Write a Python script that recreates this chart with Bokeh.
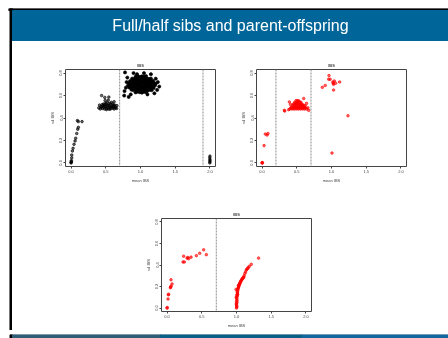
from bokeh.plotting import figure
from bokeh.layouts import column, row
from bokeh.models import Range1d, FixedTicker, Span, Spacer, Div
from bokeh.embed import file_html
from bokeh.resources import INLINE
from bokeh.core.properties import value

# ---------------- texts ----------------
slide_title = "Full/half sibs and parent-offspring"
footer_left = "Heather Cordell  (Newcastle)"
footer_mid = "GWAS (Part 1)"
footer_right = "36 / 47"

panel_title = "IBS"
x_label = "mean IBS"
y_label = "sd IBS"
x_ticks = [0.0, 0.5, 1.0, 1.5, 2.0]
x_tick_labels = ["0.0", "0.5", "1.0", "1.5", "2.0"]
y_ticks = [0.0, 0.2, 0.4, 0.6, 0.8]
y_tick_labels = ["0.0", "0.2", "0.4", "0.6", "0.8"]

# ---------------- panel 1 (black) ----------------
p1_po = [(0.0, 0.0), (0.002, 0.005), (0.004, 0.012), (0.005, 0.02), (0.01, 0.045), (0.01, 0.07),
         (0.019, 0.106), (0.029, 0.13), (0.043, 0.166), (0.058, 0.196), (0.067, 0.22),
         (0.082, 0.262), (0.096, 0.30), (0.105, 0.317), (0.091, 0.377), (0.105, 0.368), (0.158, 0.368)]
p1_hs = [(0.40, 0.49), (0.42, 0.48), (0.43, 0.50), (0.45, 0.485), (0.46, 0.51), (0.47, 0.495),
         (0.48, 0.48), (0.49, 0.52), (0.50, 0.50), (0.51, 0.485), (0.52, 0.515), (0.53, 0.495),
         (0.54, 0.48), (0.55, 0.51), (0.56, 0.495), (0.57, 0.525), (0.58, 0.485), (0.59, 0.505),
         (0.60, 0.49), (0.61, 0.515), (0.62, 0.48), (0.63, 0.50), (0.64, 0.49), (0.655, 0.485),
         (0.47, 0.525), (0.50, 0.53), (0.52, 0.54), (0.55, 0.53), (0.58, 0.54), (0.60, 0.525),
         (0.44, 0.50), (0.48, 0.505), (0.53, 0.51), (0.57, 0.50), (0.61, 0.50), (0.63, 0.515),
         (0.51, 0.475), (0.56, 0.478), (0.45, 0.52), (0.44, 0.60), (0.486, 0.583), (0.544, 0.586),
         (0.41, 0.515), (0.66, 0.51), (0.62, 0.545), (0.49, 0.555), (0.535, 0.56)]
p1_unrel = [(0.93, 0.628), (0.96, 0.634), (0.99, 0.630), (1.02, 0.626), (1.05, 0.633), (1.08, 0.631),
            (0.87, 0.652), (0.90, 0.647), (0.93, 0.655), (0.96, 0.649), (0.99, 0.652), (1.02, 0.646),
            (1.05, 0.654), (1.08, 0.650), (1.11, 0.645), (1.14, 0.653), (1.16, 0.648),
            (0.84, 0.671), (0.87, 0.667), (0.90, 0.674), (0.93, 0.669), (0.96, 0.672), (0.99, 0.666),
            (1.02, 0.673), (1.05, 0.668), (1.08, 0.671), (1.11, 0.675), (1.14, 0.668), (1.17, 0.672),
            (1.19, 0.667),
            (0.82, 0.689), (0.85, 0.693), (0.88, 0.687), (0.91, 0.691), (0.94, 0.694), (0.97, 0.688),
            (1.00, 0.692), (1.03, 0.686), (1.06, 0.690), (1.09, 0.694), (1.12, 0.688), (1.15, 0.692),
            (1.18, 0.689), (1.21, 0.691),
            (0.83, 0.711), (0.86, 0.707), (0.89, 0.713), (0.92, 0.709), (0.95, 0.706), (0.98, 0.712),
            (1.01, 0.708), (1.04, 0.714), (1.07, 0.710), (1.10, 0.706), (1.13, 0.712), (1.16, 0.709),
            (1.19, 0.713), (1.22, 0.707),
            (0.85, 0.729), (0.88, 0.733), (0.91, 0.727), (0.94, 0.731), (0.97, 0.735), (1.00, 0.728),
            (1.03, 0.732), (1.06, 0.726), (1.09, 0.730), (1.12, 0.734), (1.15, 0.729), (1.18, 0.731),
            (0.88, 0.751), (0.91, 0.747), (0.94, 0.753), (0.97, 0.749), (1.00, 0.752), (1.03, 0.746),
            (1.06, 0.750), (1.09, 0.754), (1.12, 0.748), (1.15, 0.751),
            (0.93, 0.768), (0.96, 0.772), (0.99, 0.766), (1.02, 0.771), (1.05, 0.769), (1.08, 0.773),
            (0.777, 0.806), (0.77, 0.64), (0.765, 0.60), (0.83, 0.588), (0.90, 0.80), (1.05, 0.80),
            (1.27, 0.68), (1.24, 0.65), (1.25, 0.72), (0.80, 0.72), (0.79, 0.67), (1.20, 0.62),
            (0.86, 0.61), (1.10, 0.61), (1.15, 0.79), (0.95, 0.79), (1.22, 0.75), (0.81, 0.76)]
p1_dup = [(1.998, 0.0), (2.0, 0.01), (2.0, 0.02), (2.0, 0.03), (1.998, 0.045), (2.0, 0.06)]
p1_cuts = [0.70, 1.90]

# ---------------- panel 2 (red) ----------------
p2_pts = [(0.0, 0.0), (0.003, 0.003), (0.006, 0.0), (0.029, 0.154), (0.047, 0.257), (0.072, 0.248),
          (0.086, 0.262), (0.321, 0.468), (0.326, 0.462),
          (0.40, 0.48), (0.43, 0.48), (0.46, 0.48), (0.49, 0.48), (0.52, 0.48), (0.55, 0.48),
          (0.58, 0.48), (0.61, 0.48), (0.64, 0.48),
          (0.415, 0.488), (0.445, 0.488), (0.475, 0.488), (0.505, 0.488), (0.535, 0.488),
          (0.565, 0.488), (0.595, 0.488), (0.625, 0.488),
          (0.42, 0.495), (0.45, 0.495), (0.48, 0.495), (0.51, 0.495), (0.54, 0.495), (0.57, 0.495),
          (0.60, 0.495), (0.62, 0.495),
          (0.455, 0.503), (0.485, 0.503), (0.515, 0.503), (0.545, 0.503), (0.575, 0.503),
          (0.605, 0.503),
          (0.44, 0.51), (0.47, 0.51), (0.50, 0.51), (0.53, 0.51), (0.56, 0.51), (0.59, 0.51),
          (0.465, 0.518), (0.495, 0.518), (0.525, 0.518), (0.555, 0.518), (0.585, 0.518),
          (0.45, 0.525), (0.48, 0.525), (0.51, 0.525), (0.54, 0.525), (0.57, 0.525),
          (0.485, 0.533), (0.515, 0.533), (0.545, 0.533),
          (0.47, 0.54), (0.50, 0.54), (0.53, 0.54), (0.56, 0.54), (0.505, 0.548), (0.535, 0.548),
          (0.49, 0.555), (0.52, 0.555),
          (0.383, 0.474), (0.671, 0.468), (0.60, 0.574), (0.64, 0.53), (0.393, 0.543), (0.41, 0.52),
          (0.62, 0.51), (0.66, 0.49),
          (0.964, 0.778), (0.96, 0.745), (0.98, 0.745), (0.91, 0.69), (0.868, 0.673), (1.02, 0.72),
          (1.03, 0.70), (1.04, 0.73), (1.025, 0.71), (1.06, 0.71), (1.117, 0.721), (1.03, 0.649),
          (1.237, 0.42), (1.007, 0.088)]
p2_cuts = [0.20, 0.705]

# ---------------- panel 3 (red) ----------------
p3_pts = [(0.0, 0.0), (0.003, 0.005), (0.014, 0.084), (0.019, 0.123), (0.022, 0.128),
          (0.047, 0.188), (0.057, 0.203), (0.072, 0.224), (0.052, 0.195), (0.057, 0.263),
          (0.23, 0.428), (0.249, 0.428), (0.239, 0.482), (0.288, 0.464), (0.31, 0.458),
          (0.30, 0.47), (0.345, 0.473), (0.422, 0.487), (0.47, 0.509), (0.527, 0.541),
          (0.566, 0.496),
          (1.0, 0.0), (1.004, 0.01), (1.002, 0.02), (1.0, 0.03), (0.998, 0.04), (1.006, 0.05),
          (1.0, 0.06), (1.008, 0.07), (1.004, 0.084), (1.004, 0.095), (0.996, 0.10), (1.01, 0.11),
          (1.006, 0.12), (1.012, 0.128), (1.016, 0.125), (1.014, 0.14), (1.012, 0.15),
          (1.016, 0.159), (1.02, 0.17), (0.993, 0.173), (1.022, 0.18), (1.026, 0.188),
          (1.03, 0.195), (1.034, 0.205), (1.028, 0.21), (1.036, 0.213), (1.042, 0.22),
          (1.046, 0.226), (1.05, 0.233), (1.056, 0.24), (1.06, 0.246), (1.065, 0.254),
          (1.072, 0.26), (1.078, 0.266), (1.084, 0.272), (1.092, 0.278), (1.098, 0.283),
          (1.103, 0.287), (1.11, 0.30), (1.12, 0.32), (1.13, 0.335), (1.141, 0.353),
          (1.15, 0.36), (1.16, 0.368), (1.17, 0.376), (1.184, 0.388), (1.213, 0.406),
          (1.318, 0.464)]
p3_cuts = [0.709]

FONT = "Liberation Sans"
BLUE = "#006699"


def panel(width, height, top, bottom):
    p = figure(width=width, height=height, x_range=Range1d(-0.08, 2.08),
               y_range=Range1d(-0.032, 0.832), output_backend="svg", toolbar_location=None,
               min_border_left=20, min_border_right=10, min_border_top=top,
               min_border_bottom=bottom, title=panel_title)
    p.title.text_font_size = "4px"
    p.title.text_font = FONT
    p.title.text_font_style = "bold"
    p.title.align = "center"
    p.title.standoff = 3
    p.title.text_color = "#444444"
    p.grid.visible = False
    p.outline_line_color = "#444444"
    p.outline_line_width = 1
    p.background_fill_color = "white"
    p.border_fill_color = "white"
    for ax, ticks, labels, lab in ((p.xaxis[0], x_ticks, x_tick_labels, x_label),
                                   (p.yaxis[0], y_ticks, y_tick_labels, y_label)):
        ax.ticker = FixedTicker(ticks=ticks)
        ax.major_label_overrides = {t: l for t, l in zip(ticks, labels)}
        ax.axis_line_color = None
        ax.major_tick_line_color = "#444444"
        ax.major_tick_out = 2
        ax.major_tick_in = 0
        ax.minor_tick_line_color = None
        ax.major_label_text_font_size = "4px"
        ax.major_label_text_font = FONT
        ax.major_label_text_color = "#444444"
        ax.major_label_standoff = 1
        ax.axis_label = lab
        ax.axis_label_text_font_size = "4px"
        ax.axis_label_text_font = FONT
        ax.axis_label_text_font_style = "normal"
        ax.axis_label_text_color = "#444444"
        ax.axis_label_standoff = 2
    p.yaxis[0].major_label_orientation = "vertical"
    return p


def add_cuts(p, cuts):
    for c in cuts:
        p.add_layout(Span(location=c, dimension="height", line_color="#8c8c8c",
                          line_width=1, line_dash="2 1"))


def add_points(p, pts, color, size=2.6, alpha=0.6):
    xs = [a for a, b in pts]
    ys = [b for a, b in pts]
    p.scatter(xs, ys, marker="circle", size=size, line_color=color, line_width=0.6,
              fill_color=color, fill_alpha=alpha)


def canvas_fig(w, h):
    f = figure(width=w, height=h, x_range=Range1d(0, w), y_range=Range1d(h, 0),
               output_backend="svg", toolbar_location=None, x_axis_type=None,
               y_axis_type=None, min_border=0, title=None)
    f.outline_line_color = None
    f.background_fill_color = "white"
    f.border_fill_color = "white"
    return f


# header
header = canvas_fig(440, 33)
header.quad(left=[0], right=[440], top=[0], bottom=[2], color="black")
header.quad(left=[1.5], right=[4], top=[0], bottom=[33], color="black")
header.quad(left=[4], right=[440], top=[2], bottom=[33], color=BLUE)
header.text(x=[222], y=[17], text=[slide_title], text_align="center",
            text_baseline="alphabetic", text_font_size="16px", text_color="white",
            text_font=value(FONT))

# row B
p1 = panel(180, 144, 28, 19)
add_cuts(p1, p1_cuts)
add_points(p1, p1_po, "black")
add_points(p1, p1_hs, "black")
add_points(p1, p1_unrel, "black", size=3.2, alpha=1.0)
add_points(p1, p1_dup, "black")

p2 = panel(180, 144, 28, 19)
add_cuts(p2, p2_cuts)
add_points(p2, p2_pts, "red")

rowB = row(Spacer(width=33, height=144), p1, Spacer(width=11, height=144), p2,
           Spacer(width=32, height=144))

# row C
p3 = panel(180, 145, 33, 16)
add_cuts(p3, p3_cuts)
add_points(p3, p3_pts, "red")
rowC = row(Spacer(width=129, height=145), p3, Spacer(width=127, height=145))

strip = Spacer(width=4, height=289,
               styles={"background": "linear-gradient(to right, #ffffff 0px, #ffffff 1px, #777777 1px, #777777 2px, #000000 2px, #000000 4px)"})
middle = row(strip, column(rowB, rowC))

# footer
footer = canvas_fig(440, 8)
footer.quad(left=[1.5], right=[4], top=[0], bottom=[8], color="black")
footer.quad(left=[4], right=[152], top=[0], bottom=[8], color="#2F5D77")
footer.quad(left=[152], right=[294], top=[0], bottom=[8], color="#0B5E86")
footer.quad(left=[294], right=[440], top=[0], bottom=[8], color="#14679C")
footer.text(x=[76], y=[2.5], text=[footer_left], text_align="center", text_baseline="top",
            text_font_size="7.5px", text_color="#d5dde4", text_font=value(FONT))
footer.text(x=[225], y=[2.5], text=[footer_mid], text_align="center", text_baseline="top",
            text_font_size="7.5px", text_color="#d5dde4", text_font=value(FONT))
footer.text(x=[417], y=[2.5], text=[footer_right], text_align="left", text_baseline="top",
            text_font_size="7.5px", text_color="#d5dde4", text_font=value(FONT))

layout = column(header, middle, footer,
                styles={"position": "fixed", "left": "8px", "top": "8px"})

open("out.html", "w").write(file_html(layout, INLINE))
